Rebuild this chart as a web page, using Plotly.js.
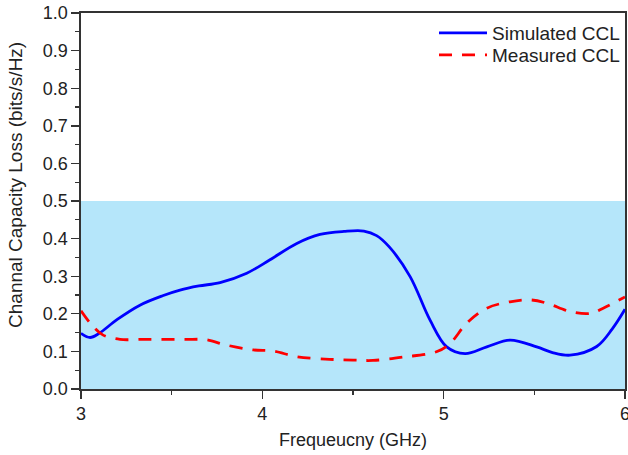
<!DOCTYPE html>
<html>
<head>
<meta charset="utf-8">
<script src="https://cdn.plot.ly/plotly-3.0.1.min.js"></script>
<style>html,body{margin:0;padding:0;background:#fff;}#chart{width:628px;height:455px;}</style>
</head>
<body>
<div id="chart"></div>
<script>
// Simulated CCL
const simX = [3.0, 3.05, 3.10, 3.20, 3.325, 3.45, 3.546, 3.65, 3.767, 3.914, 4.04, 4.19, 4.318, 4.45, 4.56, 4.63, 4.70, 4.815, 4.925, 5.017, 5.118, 5.238, 5.366, 5.513, 5.60, 5.697, 5.844, 5.93, 6.0];
const simY = [0.148, 0.137, 0.148, 0.185, 0.223, 0.248, 0.263, 0.274, 0.283, 0.308, 0.343, 0.387, 0.411, 0.419, 0.420, 0.408, 0.378, 0.299, 0.183, 0.112, 0.094, 0.112, 0.130, 0.112, 0.097, 0.090, 0.113, 0.160, 0.212];
// Measured CCL
const meaX = [3.0, 3.06, 3.12, 3.215, 3.33, 3.454, 3.58, 3.69, 3.80, 3.95, 4.06, 4.19, 4.37, 4.50, 4.61, 4.78, 4.96, 5.035, 5.127, 5.238, 5.366, 5.477, 5.57, 5.697, 5.81, 5.88, 6.0];
const meaY = [0.208, 0.170, 0.144, 0.132, 0.132, 0.132, 0.132, 0.131, 0.117, 0.104, 0.101, 0.086, 0.079, 0.077, 0.076, 0.085, 0.099, 0.121, 0.175, 0.215, 0.232, 0.237, 0.228, 0.206, 0.201, 0.215, 0.245];
const seriesNames = ["Simulated CCL", "Measured CCL"];
const shadeTop = 0.5;
const xTitle = "Frequeucny (GHz)";
const yTitle = "Channal Capacity Loss (bits/s/Hz)";

const fnt = {family: "Liberation Sans, Arial, sans-serif", color: "#222"};

const traces = [
  {x: simX, y: simY, name: seriesNames[0], type: "scatter", mode: "lines", legend: "legend",
   line: {color: "#0000ff", width: 2.8, shape: "spline", smoothing: 1.0}},
  {x: meaX, y: meaY, name: seriesNames[1], type: "scatter", mode: "lines", legend: "legend2",
   line: {color: "#ff0000", width: 2.8, shape: "spline", smoothing: 1.0, dash: "13px,10px"}}
];

const axisCommon = {
  showline: true, linecolor: "#333", linewidth: 1.6, mirror: true,
  ticks: "outside", ticklen: 8, tickwidth: 1.4, tickcolor: "#333",
  showgrid: false, zeroline: false,
  tickfont: Object.assign({size: 18}, fnt),
  ticklabeloverflow: "allow"
};

const legendCommon = {x: 1, xanchor: "right", yanchor: "middle", bgcolor: "rgba(0,0,0,0)",
  borderwidth: 0, font: Object.assign({size: 19}, fnt), itemwidth: 48};

const layout = {
  width: 628, height: 455,
  margin: {l: 81, r: 3, t: 13, b: 66},
  paper_bgcolor: "#fff", plot_bgcolor: "#fff",
  showlegend: true,
  legend: Object.assign({}, legendCommon, {y: 0.947}),
  legend2: Object.assign({}, legendCommon, {y: 0.888}),
  xaxis: Object.assign({}, axisCommon, {
    range: [3, 6], dtick: 1, tick0: 3,
    minor: {dtick: 0.5, ticks: "outside", ticklen: 4, tickwidth: 1.3, tickcolor: "#333"},
    title: {text: xTitle, font: Object.assign({size: 18}, fnt), standoff: 10}
  }),
  yaxis: Object.assign({}, axisCommon, {
    range: [0, 1], dtick: 0.1, tick0: 0, tickformat: ".1f",
    minor: {dtick: 0.05, ticks: "outside", ticklen: 4, tickwidth: 1.3, tickcolor: "#333"},
    title: {text: ""}
  }),
  annotations: [{text: yTitle, xref: "paper", yref: "paper", x: -0.1195, y: 0.5426,
                 xanchor: "center", yanchor: "middle", textangle: -90, showarrow: false,
                 font: Object.assign({size: 19}, fnt)}],
  shapes: [{type: "rect", xref: "paper", yref: "y", x0: 0, x1: 1, y0: 0, y1: shadeTop,
            fillcolor: "#b5e6fa", line: {width: 0}, layer: "below"}]
};

Plotly.newPlot("chart", traces, layout, {displayModeBar: false, staticPlot: true});
</script>
</body>
</html>
